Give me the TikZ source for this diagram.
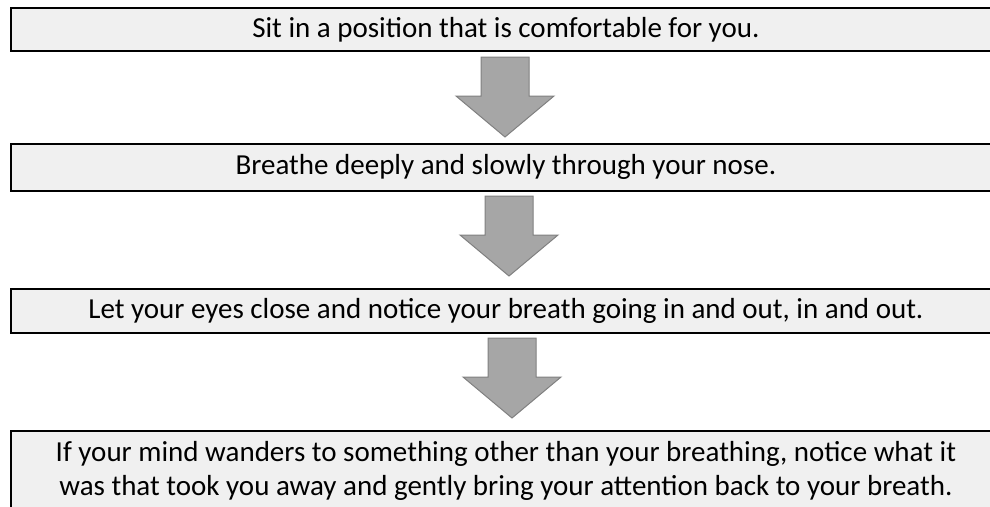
\documentclass[tikz,border=0pt]{standalone}
\usepackage{fontspec}
\setmainfont{Carlito}
\definecolor{boxgray}{RGB}{240,240,240}
\definecolor{arrowgray}{RGB}{166,166,166}
\definecolor{arrowline}{RGB}{128,128,128}
\newcommand\steptext[1]{\parbox{990pt}{\centering #1}\kern110pt}

\begin{document}
\begin{tikzpicture}[x=1pt, y=-1pt,
  stepbox/.style={draw, line width=1.8pt, fill=boxgray, anchor=north west,
    minimum width=1100pt, minimum height=43pt, inner sep=0pt,
    font=\fontsize{29}{34}\selectfont},
  downarrow/.pic={\draw[fill=arrowgray, draw=arrowline, line width=1pt]
    (-24,0) -- (24,0) -- (24,39) -- (49,39) -- (0,80) -- (-49,39) -- (-24,39) -- cycle;}]
\useasboundingbox (0,0) rectangle (990,506);

\node[stepbox] (b1) at (10,7) {\steptext{Sit in a position that is comfortable for you.}};
\node[stepbox, minimum height=47pt] (b2) at (10,143) {\steptext{Breathe deeply and slowly through your nose.}};
\node[stepbox, minimum height=44pt] (b3) at (10,288) {\steptext{Let your eyes close and notice your breath going in and out, in and out.}};
\node[stepbox, minimum height=80pt] (b4) at (10,430) {\steptext{If your mind wanders to something other than your breathing, notice what it\\was that took you away and gently bring your attention back to your breath.}};

\pic (a1) at (505,57) {downarrow};
\pic (a2) at (509,196) {downarrow};
\pic (a3) at (512,338) {downarrow};
\end{tikzpicture}
\end{document}
